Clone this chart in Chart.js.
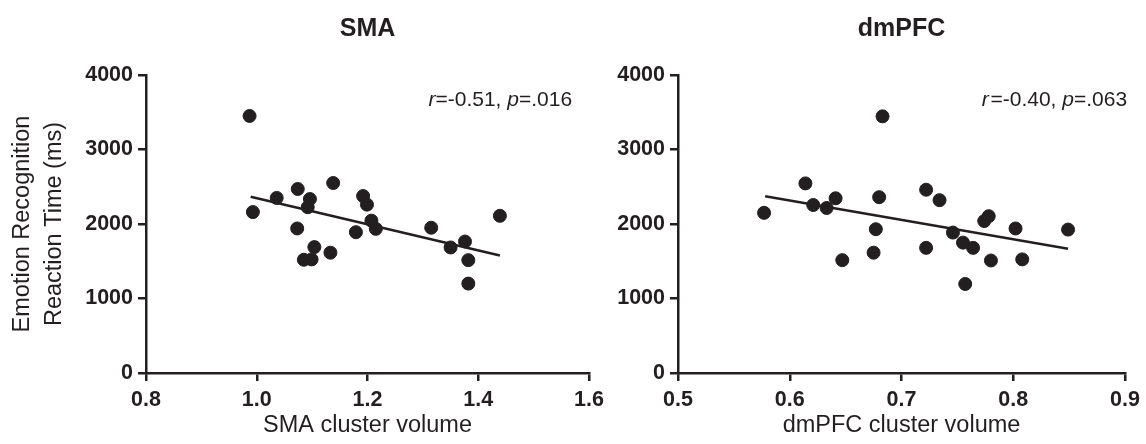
<!DOCTYPE html>
<html>
<head>
<meta charset="utf-8">
<script src="https://cdn.jsdelivr.net/npm/chart.js@4"></script>
<style>
  html, body { margin: 0; padding: 0; background: #fff; }
  #wrap { position: relative; width: 1146px; height: 444px; overflow: hidden; }
  canvas { position: absolute; top: 0; }
  #left { left: 0; }
  #right { left: 610px; }
</style>
</head>
<body>
<div id="wrap">
  <canvas id="left" width="610" height="444"></canvas>
  <canvas id="right" width="536" height="444"></canvas>
</div>
<script>
// SMA cluster volume vs reaction time
const smaX = [0.987, 0.993, 1.036, 1.074, 1.073, 1.096, 1.092, 1.085, 1.099, 1.104, 1.138, 1.133,
              1.192, 1.199, 1.207, 1.215, 1.179, 1.315, 1.350, 1.376, 1.382, 1.382, 1.439];
const smaY = [3450, 2160, 2350, 2470, 1940, 2335, 2225, 1520, 1525, 1690, 2550, 1615,
              2375, 2260, 2045, 1935, 1890, 1950, 1685, 1765, 1515, 1200, 2110];
const smaFitX = [0.989, 1.439];
const smaFitY = [2365, 1577];

// dmPFC cluster volume vs reaction time
const pfcX = [0.577, 0.614, 0.621, 0.633, 0.641, 0.647, 0.683, 0.680, 0.677, 0.675, 0.722, 0.734,
              0.722, 0.746, 0.755, 0.764, 0.757, 0.774, 0.778, 0.780, 0.802, 0.808, 0.849];
const pfcY = [2150, 2545, 2255, 2215, 2345, 1515, 3445, 2360, 1930, 1615, 2460, 2320,
              1680, 1885, 1750, 1680, 1195, 2040, 2105, 1510, 1940, 1525, 1925];
const pfcFitX = [0.578, 0.849];
const pfcFitY = [2372, 1668];

const yTicks = [0, 1000, 2000, 3000, 4000];
const smaTicks = [0.8, 1.0, 1.2, 1.4, 1.6];
const pfcTicks = [0.5, 0.6, 0.7, 0.8, 0.9];

const smaStat = ['-0.51', '.016'];
const pfcStat = ['-0.40', '.063'];

const ink = '#231f20';
const family = "'Liberation Sans', Arial, Helvetica, sans-serif";

function toPoints(xs, ys) {
    return xs.map((x, i) => ({ x: x, y: ys[i] }));
}

// r and p statistic in the top right corner, r and p in italics
const statPlugin = {
    id: 'stat',
    afterDatasetsDraw(chart, args, opts) {
        const ctx = chart.ctx;
        const parts = [
            { t: 'r', it: true },
            { t: opts.gap + '=' + opts.r + ', ', it: false },
            { t: 'p', it: true },
            { t: '=' + opts.p, it: false }
        ];
        const size = 21;
        ctx.save();
        ctx.fillStyle = ink;
        ctx.textBaseline = 'middle';
        ctx.textAlign = 'left';
        let total = 0;
        parts.forEach(part => {
            ctx.font = (part.it ? 'italic ' : '') + size + 'px ' + family;
            part.w = ctx.measureText(part.t).width;
            total += part.w;
        });
        let x = chart.chartArea.right - opts.right - total;
        const y = chart.chartArea.top + 25;
        parts.forEach(part => {
            ctx.font = (part.it ? 'italic ' : '') + size + 'px ' + family;
            ctx.fillText(part.t, x, y);
            x += part.w;
        });
        ctx.restore();
    }
};

function makeChart(id, opt) {
    const ctx = document.getElementById(id).getContext('2d');
    return new Chart(ctx, {
        type: 'scatter',
        data: {
            datasets: [{
                data: toPoints(opt.xs, opt.ys),
                backgroundColor: ink,
                borderColor: ink,
                pointRadius: 6.5,
                pointHoverRadius: 6.5
            }, {
                type: 'line',
                data: toPoints(opt.fitX, opt.fitY),
                borderColor: ink,
                borderWidth: 2.5,
                pointRadius: 0,
                fill: false
            }]
        },
        options: {
            responsive: false,
            animation: false,
            layout: { padding: { left: 0, right: opt.padRight, top: 0, bottom: 0 } },
            plugins: {
                legend: { display: false },
                tooltip: { enabled: false },
                title: {
                    display: true,
                    text: opt.title,
                    fullSize: false,
                    color: ink,
                    font: { family: family, size: 25, weight: 'bold', lineHeight: 1.2 },
                    padding: { top: 14, bottom: 31 }
                },
                stat: opt.stat
            },
            scales: {
                x: {
                    type: 'linear',
                    min: opt.ticks[0],
                    max: opt.ticks[opt.ticks.length - 1],
                    afterBuildTicks: scale => { scale.ticks = opt.ticks.map(v => ({ value: v })); },
                    afterFit: scale => { scale.height = 71; },
                    border: { display: true, color: ink, width: 2.5 },
                    grid: { drawOnChartArea: false, drawTicks: true, tickLength: 8, color: ink, lineWidth: 2.5 },
                    ticks: {
                        color: ink,
                        padding: 6,
                        maxRotation: 0,
                        font: { family: family, size: 21.5, weight: 'bold' },
                        callback: v => v.toFixed(1)
                    },
                    title: {
                        display: true,
                        text: opt.xTitle,
                        color: ink,
                        font: { family: family, size: 23.5, lineHeight: 1.2 },
                        padding: { top: 0, bottom: 4 }
                    }
                },
                y: {
                    type: 'linear',
                    min: 0,
                    max: 4000,
                    afterBuildTicks: scale => { scale.ticks = yTicks.map(v => ({ value: v })); },
                    afterFit: scale => { scale.width = opt.yWidth; },
                    border: { display: true, color: ink, width: 2.5 },
                    grid: { drawOnChartArea: false, drawTicks: true, tickLength: 8, color: ink, lineWidth: 2.5 },
                    ticks: {
                        color: ink,
                        padding: 5,
                        font: { family: family, size: 21.5, weight: 'bold' },
                        callback: v => String(v)
                    },
                    title: {
                        display: opt.yTitle !== null,
                        text: opt.yTitle,
                        color: ink,
                        font: { family: family, size: 23.5, lineHeight: 1.35 },
                        padding: { top: 7, bottom: 0 }
                    }
                }
            }
        },
        plugins: [statPlugin]
    });
}

makeChart('left', {
    xs: smaX, ys: smaY, fitX: smaFitX, fitY: smaFitY,
    ticks: smaTicks,
    title: 'SMA',
    xTitle: 'SMA cluster volume',
    yTitle: ['Emotion Recognition', 'Reaction Time (ms)'],
    yWidth: 146,
    padRight: 17,
    stat: { r: smaStat[0], p: smaStat[1], gap: '', right: 17 }
});

makeChart('right', {
    xs: pfcX, ys: pfcY, fitX: pfcFitX, fitY: pfcFitY,
    ticks: pfcTicks,
    title: 'dmPFC',
    xTitle: 'dmPFC cluster volume',
    yTitle: null,
    yWidth: 68,
    padRight: 17,
    stat: { r: pfcStat[0], p: pfcStat[1], gap: '\u200a', right: -2 }
});
</script>
</body>
</html>
